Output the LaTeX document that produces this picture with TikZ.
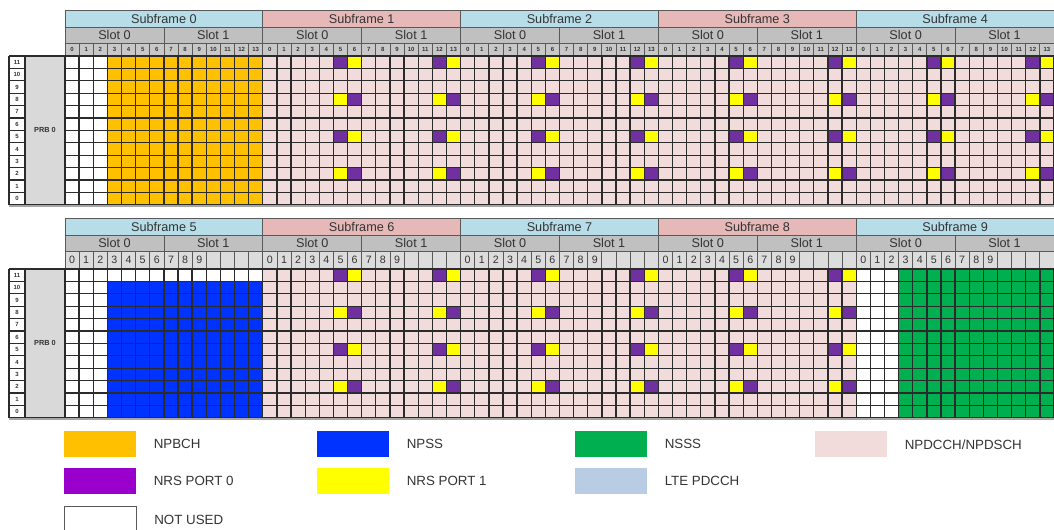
\documentclass[tikz,border=0pt]{standalone}
\usepackage{fontspec}
\setmainfont{Liberation Sans}
\setsansfont{Liberation Sans}
\usepackage{tikz}
\usetikzlibrary{positioning}
\definecolor{hdrblue}{HTML}{B7DEE8}
\definecolor{hdrpink}{HTML}{E6B8B7}
\definecolor{slotgrey}{HTML}{C0C0C0}
\definecolor{numgrey}{HTML}{C8C8C8}
\definecolor{numlight}{HTML}{DCDCDC}
\definecolor{prbgrey}{HTML}{D9D9D9}
\definecolor{hdrink}{HTML}{595959}
\definecolor{gridink}{HTML}{2B2B2B}
\definecolor{textink}{HTML}{333333}
\definecolor{shadowgrey}{HTML}{A6A6A6}
\definecolor{npbch}{HTML}{FFC000}
\definecolor{npss}{HTML}{0033FF}
\definecolor{nsss}{HTML}{00B050}
\definecolor{npdsch}{HTML}{F2DCDB}
\definecolor{nrsa}{HTML}{7030A0}
\definecolor{nrsalegend}{HTML}{9900CC}
\definecolor{nrsb}{HTML}{FFFF00}
\definecolor{ltepdcch}{HTML}{B8CCE4}
\newcommand{\colw}{14.1286}
\newcommand{\sfw}{197.8}
\newcommand{\rowh}{12.4}

\begin{document}
\begin{tikzpicture}[
  x=0.75pt, y=-0.75pt, font=\sffamily,
  cellline/.style={draw=gridink, line width=1pt},
  hdr/.style={draw=hdrink, line width=0.6pt},
  hdrtext/.style={font=\sffamily\fontsize{9.5}{10}\selectfont, text=textink, inner sep=0pt},
  numtiny/.style={font=\sffamily\bfseries\fontsize{4.5}{5}\selectfont, text=textink, inner sep=0pt},
  numbig/.style={font=\sffamily\fontsize{8}{9}\selectfont, text=textink, inner sep=0pt},
  legbox/.style={minimum width=54pt, minimum height=19.5pt, inner sep=0pt, anchor=north west},
  legtext/.style={font=\sffamily\fontsize{10}{12}\selectfont, text=textink, inner sep=0pt, right=12.75pt of #1}
]
\useasboundingbox (0,0) rectangle (1054,529);
\clip (0,0) rectangle (1054,529);

% header rows: subframe, slot, symbol index
\foreach \p/\yh/\nh in {0/10/13, 1/218/18} {
  \foreach \k in {0,...,4} {
    \pgfmathtruncatemacro{\n}{5*\p+\k}
    \pgfmathsetmacro{\xa}{65+\sfw*\k}
    \pgfmathtruncatemacro{\odd}{mod(\k,2)}
    \ifnum\odd=0 \def\hc{hdrblue}\else\def\hc{hdrpink}\fi
    \draw[hdr, fill=\hc] (\xa,\yh) rectangle ++(\sfw,17);
    \node[hdrtext] (sf\n) at (\xa+0.5*\sfw,\yh+8.5) {Subframe \n};
    \draw[hdr, fill=slotgrey] (\xa,\yh+17) rectangle ++(0.5*\sfw,16);
    \draw[hdr, fill=slotgrey] (\xa+0.5*\sfw,\yh+17) rectangle ++(0.5*\sfw,16);
    \node[hdrtext] (sf\n s0) at (\xa+0.25*\sfw,\yh+25) {Slot 0};
    \node[hdrtext] (sf\n s1) at (\xa+0.75*\sfw,\yh+25) {Slot 1};
    \foreach \c in {0,...,13} {
      \ifnum\p=0
        \draw[hdr, fill=numgrey] (\xa+\c*\colw,\yh+33) rectangle ++(\colw,\nh);
        \node[numtiny] at (\xa+\c*\colw+0.5*\colw,\yh+33+0.5*\nh) {\c};
      \else
        \draw[hdr, fill=numlight] (\xa+\c*\colw,\yh+33) rectangle ++(\colw,\nh);
        \ifnum\c<10
          \node[numbig] at (\xa+\c*\colw+0.5*\colw,\yh+33+0.5*\nh) {\c};
        \fi
      \fi
    }
  }
}

% resource element backgrounds
\fill[npdsch] (65+\sfw,56) rectangle (1054,56+12*\rowh);
\fill[white] (65,56) rectangle ++(3*\colw,12*\rowh);
\fill[npbch] (65+3*\colw,56) rectangle (65+\sfw,56+12*\rowh);
\fill[npdsch] (65+\sfw,269) rectangle (65+4*\sfw,269+12*\rowh);
\fill[white] (65,269) rectangle (65+\sfw,269+12*\rowh);
\fill[npss] (65+3*\colw,269+\rowh) rectangle (65+\sfw,269+12*\rowh);
\fill[white] (65+4*\sfw,269) rectangle ++(3*\colw,12*\rowh);
\fill[nsss] (65+4*\sfw+3*\colw,269) rectangle (1054,269+12*\rowh);

% NRS ports
\foreach \yg/\klist in {56/{1,2,3,4}, 269/{1,2,3}} {
  \foreach \k in \klist {
    \foreach \s in {0,7} {
      \foreach \c/\r/\col in {5/0/nrsa, 6/0/nrsb, 5/3/nrsb, 6/3/nrsa,
                              5/6/nrsa, 6/6/nrsb, 5/9/nrsb, 6/9/nrsa} {
        \fill[\col] (65+\sfw*\k+\c*\colw+\s*\colw,\yg+\r*\rowh) rectangle ++(\colw,\rowh);
      }
    }
  }
}

% grid lines, PRB label and row index
\foreach \yg in {56, 269} {
  \draw[shadowgrey, line width=1.5pt] (9,\yg+12*\rowh+1.6) -- (1054,\yg+12*\rowh+1.6);
  \draw[cellline, fill=prbgrey] (25,\yg) rectangle (65,\yg+12*\rowh);
  \node[font=\sffamily\bfseries\fontsize{5.5}{6}\selectfont, text=textink] at (45,\yg+6*\rowh) {PRB 0};
  \foreach \i in {0,...,70}
    \draw[cellline] (65+\i*\colw,\yg) -- ++(0,12*\rowh);
  \foreach \j in {0,...,12} {
    \draw[cellline] (65,\yg+\j*\rowh) -- (1054,\yg+\j*\rowh);
    \draw[cellline] (9,\yg+\j*\rowh) -- (25,\yg+\j*\rowh);
  }
  \draw[cellline] (9,\yg) -- ++(0,12*\rowh);
  \foreach \j in {0,...,11} {
    \pgfmathtruncatemacro{\rr}{11-\j}
    \node[numtiny] at (17,\yg+\j*\rowh+0.5*\rowh) {\rr};
  }
}

% legend
\node[legbox, fill=npbch] (lgpbch) at (64,431) {};
\node[legtext=lgpbch] (tpbch) {NPBCH};
\node[legbox, fill=npss] (lgpss) at (317,431) {};
\node[legtext=lgpss] (tpss) {NPSS};
\node[legbox, fill=nsss] (lgsss) at (575,431) {};
\node[legtext=lgsss] (tsss) {NSSS};
\node[legbox, fill=npdsch] (lgpdsch) at (815,431) {};
\node[legtext=lgpdsch] (tpdsch) {NPDCCH/NPDSCH};
\node[legbox, fill=nrsalegend] (lgnrsa) at (64,468) {};
\node[legtext=lgnrsa] (tnrsa) {NRS PORT 0};
\node[legbox, fill=nrsb] (lgnrsb) at (317,468) {};
\node[legtext=lgnrsb] (tnrsb) {NRS PORT 1};
\node[legbox, fill=ltepdcch] (lglte) at (575,468) {};
\node[legtext=lglte] (tlte) {LTE PDCCH};
\node[legbox, draw=hdrink, line width=0.8pt, fill=white] (lgunused) at (64,506) {};
\node[legtext=lgunused] (tunused) {NOT USED};
\end{tikzpicture}
\end{document}
